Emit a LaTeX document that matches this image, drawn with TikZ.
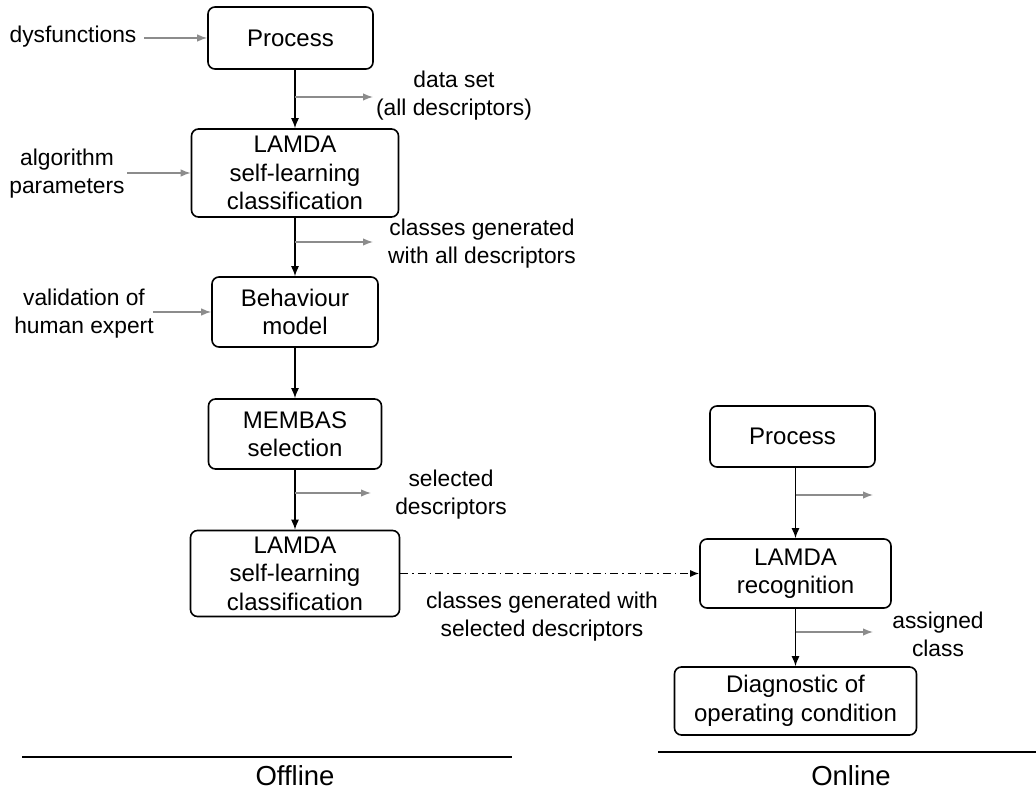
\documentclass[tikz,border=0pt]{standalone}
\usepackage{fontspec}
\setmainfont{Liberation Sans}
\usetikzlibrary{arrows.meta,calc}
\definecolor{grayarr}{HTML}{8C8C8C}
\begin{document}
\begin{tikzpicture}[x=1pt,y=-1pt,
  box/.style={draw=black, line width=1.6pt, rounded corners=7pt, inner sep=0pt, align=center, font=\fontsize{24}{28.5}\selectfont},
  lbl/.style={inner sep=0pt, align=center, font=\fontsize{22.8}{28}\selectfont},
  big/.style={inner sep=0pt, font=\fontsize{27.5}{32}\selectfont},
  arr/.style={draw=black, line width=1.4pt, -{Latex[length=10pt,width=8pt]}},
  garr/.style={draw=grayarr, line width=1.4pt, -{Latex[length=10pt,width=7.5pt]}},
  dda/.style={draw=black, line width=1.2pt, dash pattern=on 8pt off 4pt on 1.5pt off 4pt, -{Latex[length=9pt,width=7pt]}},
  sep/.style={draw=black, line width=1.8pt}
]
\fill[white] (0,0) rectangle (1036,791);
\useasboundingbox (0,0) rectangle (1036,791);

% offline column
\node[box, minimum width=165pt, minimum height=62pt] (p1) at (290.5,38) {Process};
\node[box, minimum width=207pt, minimum height=88pt] (l1) at (295,173) {LAMDA\\self-learning\\classification};
\node[box, minimum width=166pt, minimum height=70pt] (b) at (295,312) {Behaviour\\model};
\node[box, minimum width=173pt, minimum height=70pt] (m) at (295,434) {MEMBAS\\selection};
\node[box, minimum width=209pt, minimum height=86pt] (l2) at (295,573.5) {LAMDA\\self-learning\\classification};

% online column
\node[box, minimum width=165pt, minimum height=61pt] (p2) at (792.5,436.5) {Process};
\node[box, minimum width=191pt, minimum height=69pt] (r) at (795.5,573.5) {LAMDA\\recognition};
\node[box, minimum width=242pt, minimum height=68pt] (d) at (795.5,701) {Diagnostic of\\operating condition};

% labels
\node[lbl] (dys) at (73,37) {dysfunctions};
\node[lbl] (ds) at (454,96) {data set\\(all descriptors)};
\node[lbl] (alg) at (67,173.5) {algorithm\\parameters};
\node[lbl] (cg) at (482,243.5) {classes generated\\with all descriptors};
\node[lbl] (val) at (84,313.5) {validation of\\human expert};
\node[lbl] (sd) at (451,494.5) {selected\\descriptors};
\node[lbl] (cgs) at (542,617) {classes generated with\\selected descriptors};
\node[lbl] (ac) at (938,634) {assigned\\class};
\node[big] (off) at (295,776) {Offline};
\node[big] (on) at (851,776) {Online};

% main arrows
\draw[arr] (p1.south -| l1.north) -- (l1.north);
\draw[arr] (l1.south) -- (b.north);
\draw[arr] (b.south) -- (m.north);
\draw[arr] (m.south) -- (l2.north);
\draw[arr] (p2.south -| r.north) -- (r.north);
\draw[arr] (r.south) -- (d.north);
\draw[dda] (l2.east) -- (r.west);

% input arrows
\coordinate (dysS) at (144,38);
\coordinate (algS) at (127,173);
\coordinate (valS) at (153,312);
\draw[garr] (dysS) -- (p1.west);
\draw[garr] (algS) -- (l1.west);
\draw[garr] (valS) -- (b.west);

% side output arrows
\coordinate (g1s) at (295,97);  \coordinate (g1e) at (373,97);
\coordinate (g2s) at (295,242); \coordinate (g2e) at (373,242);
\coordinate (g3s) at (295,493); \coordinate (g3e) at (371,493);
\coordinate (g4s) at (795.5,495); \coordinate (g4e) at (873,495);
\coordinate (g5s) at (795.5,632); \coordinate (g5e) at (873,632);
\draw[garr] (g1s) -- (g1e);
\draw[garr] (g2s) -- (g2e);
\draw[garr] (g3s) -- (g3e);
\draw[garr] (g4s) -- (g4e);
\draw[garr] (g5s) -- (g5e);

% separator lines
\coordinate (offL) at (22,757);  \coordinate (offR) at (512,757);
\coordinate (onL) at (658,752);  \coordinate (onR) at (1036,752);
\draw[sep] (offL) -- (offR);
\draw[sep] (onL) -- (onR);
\end{tikzpicture}
\end{document}
